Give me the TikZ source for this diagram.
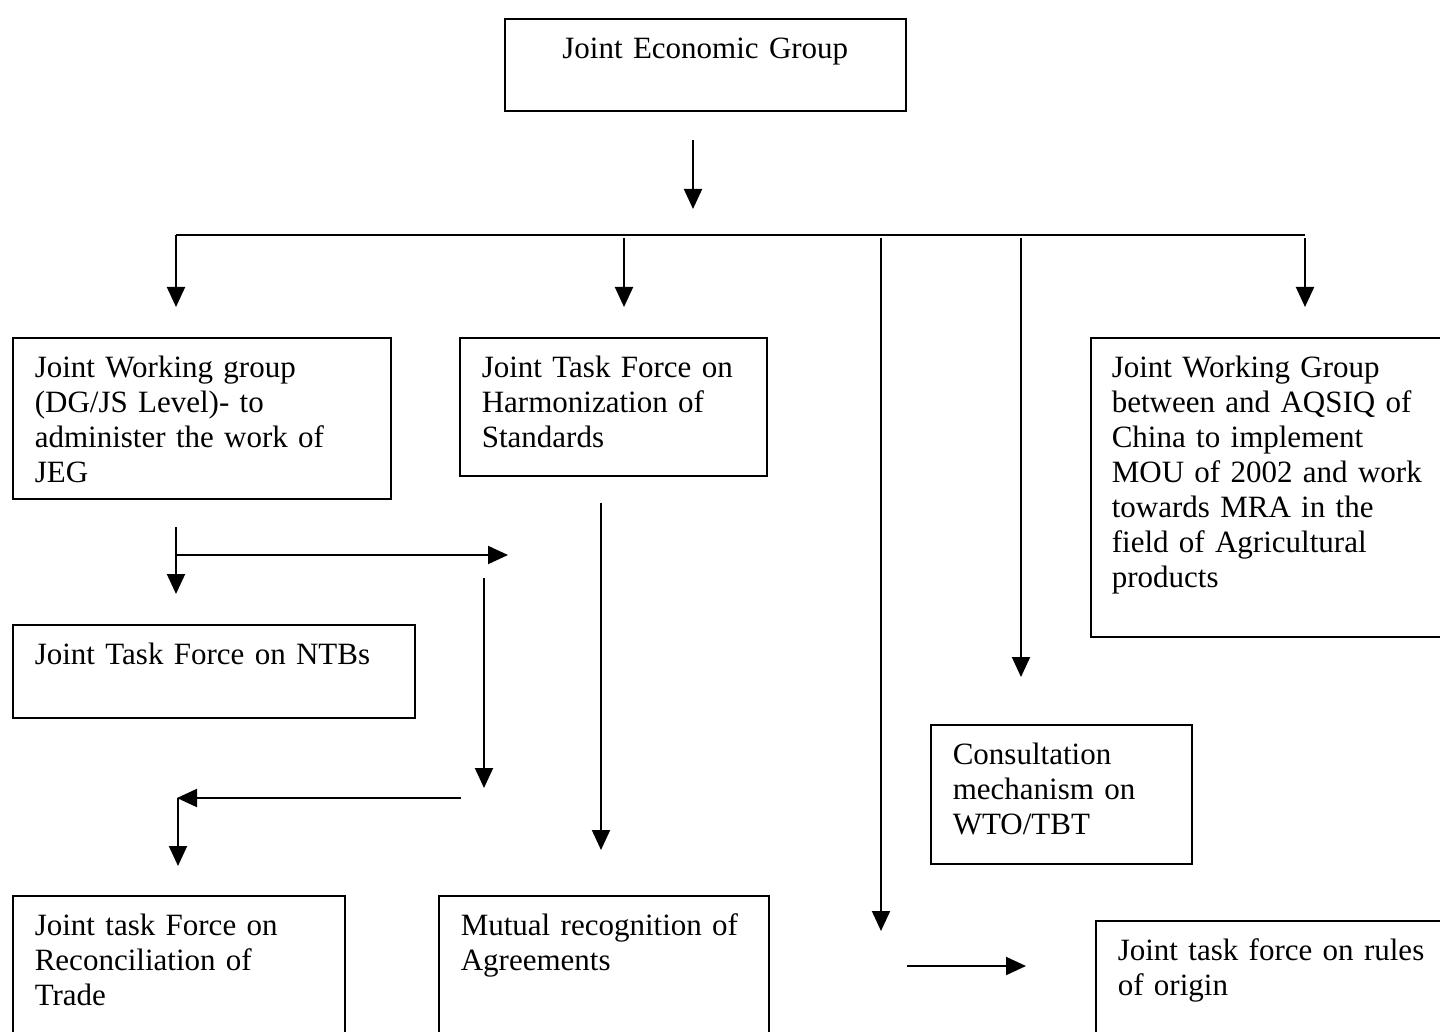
\documentclass[tikz,border=0pt]{standalone}
\usepackage{fontspec}
\setmainfont{Liberation Serif}
\usetikzlibrary{arrows.meta}
\begin{document}
\begin{tikzpicture}[x=0.5pt,y=-0.5pt,
  box/.style={draw,line width=0.8pt,anchor=north west,align=left,inner xsep=11pt,inner ysep=7.5pt,text height=12.25pt,font=\fontsize{15.5}{17.5}\selectfont},
  arr/.style={line width=1pt,-{Triangle[length=10pt,width=9pt]}},
  ln/.style={line width=1pt}]
\useasboundingbox (0,0) rectangle (1440,1032);
\clip (0,0) rectangle (1440,1032);
% boxes
\node[box,text width=178.5pt,align=center,text depth=18.75pt] (jeg) at (504,18) {Joint Economic Group};
\node[box,text width=167pt,text depth=53.25pt] (jwg) at (12,337) {Joint Working group\\(DG/JS Level)- to\\administer the work of\\JEG};
\node[box,text width=131.5pt,text depth=41.75pt] (jth) at (459,337) {Joint Task Force on\\Harmonization of\\Standards};
\node[box,inner xsep=10.5pt,text width=156.5pt,text depth=122.25pt] (jwgr) at (1090,337) {Joint Working Group\\between and AQSIQ of\\China to implement\\MOU of 2002 and work\\towards MRA in the\\field of Agricultural\\products};
\node[box,text width=179pt,text depth=19.25pt] (ntb) at (12,624) {Joint Task Force on NTBs};
\node[box,text width=144pt,text depth=50pt] (rec) at (12,895) {Joint task Force on\\Reconciliation of\\Trade};
\node[box,text width=143pt,text depth=50pt] (mut) at (438,895) {Mutual recognition of\\Agreements};
\node[box,text width=108.5pt,text depth=42.25pt] (con) at (930,724) {Consultation\\mechanism on\\WTO/TBT};
\node[box,text width=155.5pt,text depth=50pt] (roo) at (1095,920) {Joint task force on rules\\of origin};
% connector points
\coordinate (a0s) at (693,140); \coordinate (a0e) at (693,209);
\coordinate (busL) at (176,235); \coordinate (busR) at (1305,235);
\coordinate (b1s) at (176,235); \coordinate (b1e) at (176,307);
\coordinate (b2s) at (624,238); \coordinate (b2e) at (624,307);
\coordinate (b3s) at (881,238); \coordinate (b3e) at (881,931);
\coordinate (b4s) at (1021,238); \coordinate (b4e) at (1021,677);
\coordinate (b5s) at (1305,238); \coordinate (b5e) at (1305,307);
\coordinate (c1s) at (176,527); \coordinate (c1e) at (176,594);
\coordinate (c2s) at (176,555); \coordinate (c2e) at (508,555);
\coordinate (c3s) at (484,578); \coordinate (c3e) at (484,788);
\coordinate (c4s) at (461,798); \coordinate (c4e) at (177,798);
\coordinate (c5s) at (178,798); \coordinate (c5e) at (178,866);
\coordinate (d1s) at (601,503); \coordinate (d1e) at (601,850);
\coordinate (e1s) at (907,966); \coordinate (e1e) at (1026,966);
% connectors
\draw[arr] (a0s) -- (a0e);
\draw[ln] (busL) -- (busR);
\draw[arr] (b1s) -- (b1e);
\draw[arr] (b2s) -- (b2e);
\draw[arr] (b3s) -- (b3e);
\draw[arr] (b4s) -- (b4e);
\draw[arr] (b5s) -- (b5e);
\draw[arr] (c1s) -- (c1e);
\draw[arr] (c2s) -- (c2e);
\draw[arr] (c3s) -- (c3e);
\draw[arr] (c4s) -- (c4e);
\draw[arr] (c5s) -- (c5e);
\draw[arr] (d1s) -- (d1e);
\draw[arr] (e1s) -- (e1e);
\end{tikzpicture}
\end{document}
